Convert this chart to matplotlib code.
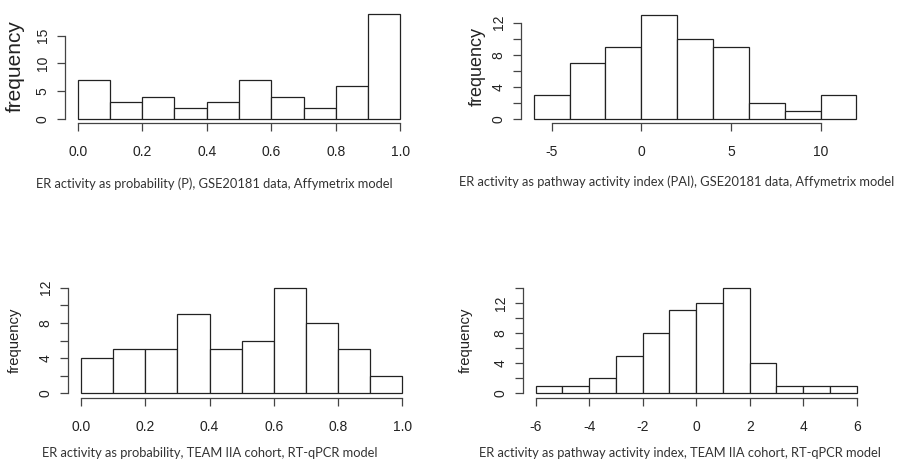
import numpy as np
import matplotlib
matplotlib.use("Agg")
import matplotlib.pyplot as plt

# bin edges and counts
p_edges = [0.0, 0.1, 0.2, 0.3, 0.4, 0.5, 0.6, 0.7, 0.8, 0.9, 1.0]
p_counts = [7, 3, 4, 2, 3, 7, 4, 2, 6, 19]

pai_edges = [-6, -4, -2, 0, 2, 4, 6, 8, 10, 12]
pai_counts = [3, 7, 9, 13, 10, 9, 2, 1, 3]

team_p_edges = [0.0, 0.1, 0.2, 0.3, 0.4, 0.5, 0.6, 0.7, 0.8, 0.9, 1.0]
team_p_counts = [4, 5, 5, 9, 5, 6, 12, 8, 5, 2]

team_pai_edges = [-6, -5, -4, -3, -2, -1, 0, 1, 2, 3, 4, 5, 6]
team_pai_counts = [1, 1, 2, 5, 8, 11, 12, 14, 4, 1, 1, 1]

captions = [
    "ER activity as probability (P), GSE20181 data, Affymetrix model",
    "ER activity as pathway activity index (PAI), GSE20181 data, Affymetrix model",
    "ER activity as probability, TEAM IIA cohort, RT-qPCR model",
    "ER activity as pathway activity index, TEAM IIA cohort, RT-qPCR model",
]

W, H = 903, 463
fig = plt.figure(figsize=(W / 100, H / 100), dpi=100)
fig.patch.set_facecolor("white")

TICKFONT = "Liberation Sans"
LINE = "#222222"


def px_axes(l, t, r, b):
    return fig.add_axes([l / W, 1 - b / H, (r - l) / W, (b - t) / H])


def r_hist(ax, edges, counts, xticks, xlabels, yticks, ylabels):
    ax.hist(edges[:-1], bins=edges, weights=counts, facecolor="white",
            edgecolor=LINE, linewidth=0.9)
    # R style: 4% padding around the data range, open axes
    x0, x1 = edges[0], edges[-1]
    dx = (x1 - x0) * 0.04
    ax.set_xlim(x0 - dx, x1 + dx)
    ymax = max(counts)
    ax.set_ylim(-ymax * 0.04, ymax * 1.04)
    for s in ["top", "right"]:
        ax.spines[s].set_visible(False)
    ax.spines["left"].set_bounds(yticks[0], yticks[-1])
    ax.spines["bottom"].set_bounds(xticks[0], xticks[-1])
    for s in ["left", "bottom"]:
        ax.spines[s].set_color("#444444")
        ax.spines[s].set_linewidth(0.9)
    ax.set_xticks(xticks)
    ax.set_xticklabels(xlabels, fontsize=10, family=TICKFONT)
    ax.set_yticks(yticks)
    ax.set_yticklabels(ylabels, fontsize=10, family=TICKFONT,
                       rotation=90, va="center")
    ax.tick_params(axis="both", length=6, width=0.9, color="#444444",
                   labelcolor="#222222")
    ax.tick_params(axis="x", pad=10)
    ax.tick_params(axis="y", pad=5)
    ax.patch.set_alpha(0)


ax1 = px_axes(64.8, 9.3, 413.2, 123.2)
r_hist(ax1, p_edges, p_counts,
       [0, 0.2, 0.4, 0.6, 0.8, 1.0], ["0.0", "0.2", "0.4", "0.6", "0.8", "1.0"],
       [0, 5, 10, 15], ["0", "5", "10", "15"])

ax2 = px_axes(520.8, 10.4, 869.4, 123.2)
r_hist(ax2, pai_edges, pai_counts,
       [-5, 0, 5, 10], ["-5", "0", "5", "10"],
       [0, 2, 4, 6, 8, 10, 12], ["0", "", "4", "", "8", "", "12"])

ax3 = px_axes(68.1, 283.5, 415.2, 397.5)
r_hist(ax3, team_p_edges, team_p_counts,
       [0, 0.2, 0.4, 0.6, 0.8, 1.0], ["0.0", "0.2", "0.4", "0.6", "0.8", "1.0"],
       [0, 2, 4, 6, 8, 10, 12], ["0", "", "4", "", "8", "", "12"])

ax4 = px_axes(522.9, 283.5, 869.5, 397.5)
r_hist(ax4, team_pai_edges, team_pai_counts,
       [-6, -4, -2, 0, 2, 4, 6], ["-6", "-4", "-2", "0", "2", "4", "6"],
       [0, 2, 4, 6, 8, 10, 12, 14], ["0", "", "4", "", "8", "", "12", ""])

# y labels (different sizes in the original)
ylab = [(15, 66, 15), (477.7, 66, 13), (15, 340, 10.7), (466, 340, 10.7)]
for x, y, fs in ylab:
    fig.text(x / W, 1 - y / H, "frequency", rotation=90, ha="center",
             va="center", fontsize=fs, family=TICKFONT, color="#222222")

# captions under each panel
cap_pos = [(214, 184), (677, 182), (210, 453), (680, 453)]
for (x, y), c in zip(cap_pos, captions):
    fig.text(x / W, 1 - y / H, c, ha="center", va="center", fontsize=9.3,
             family="Lato", color="#333333")

fig.savefig("out.png", dpi=100)
